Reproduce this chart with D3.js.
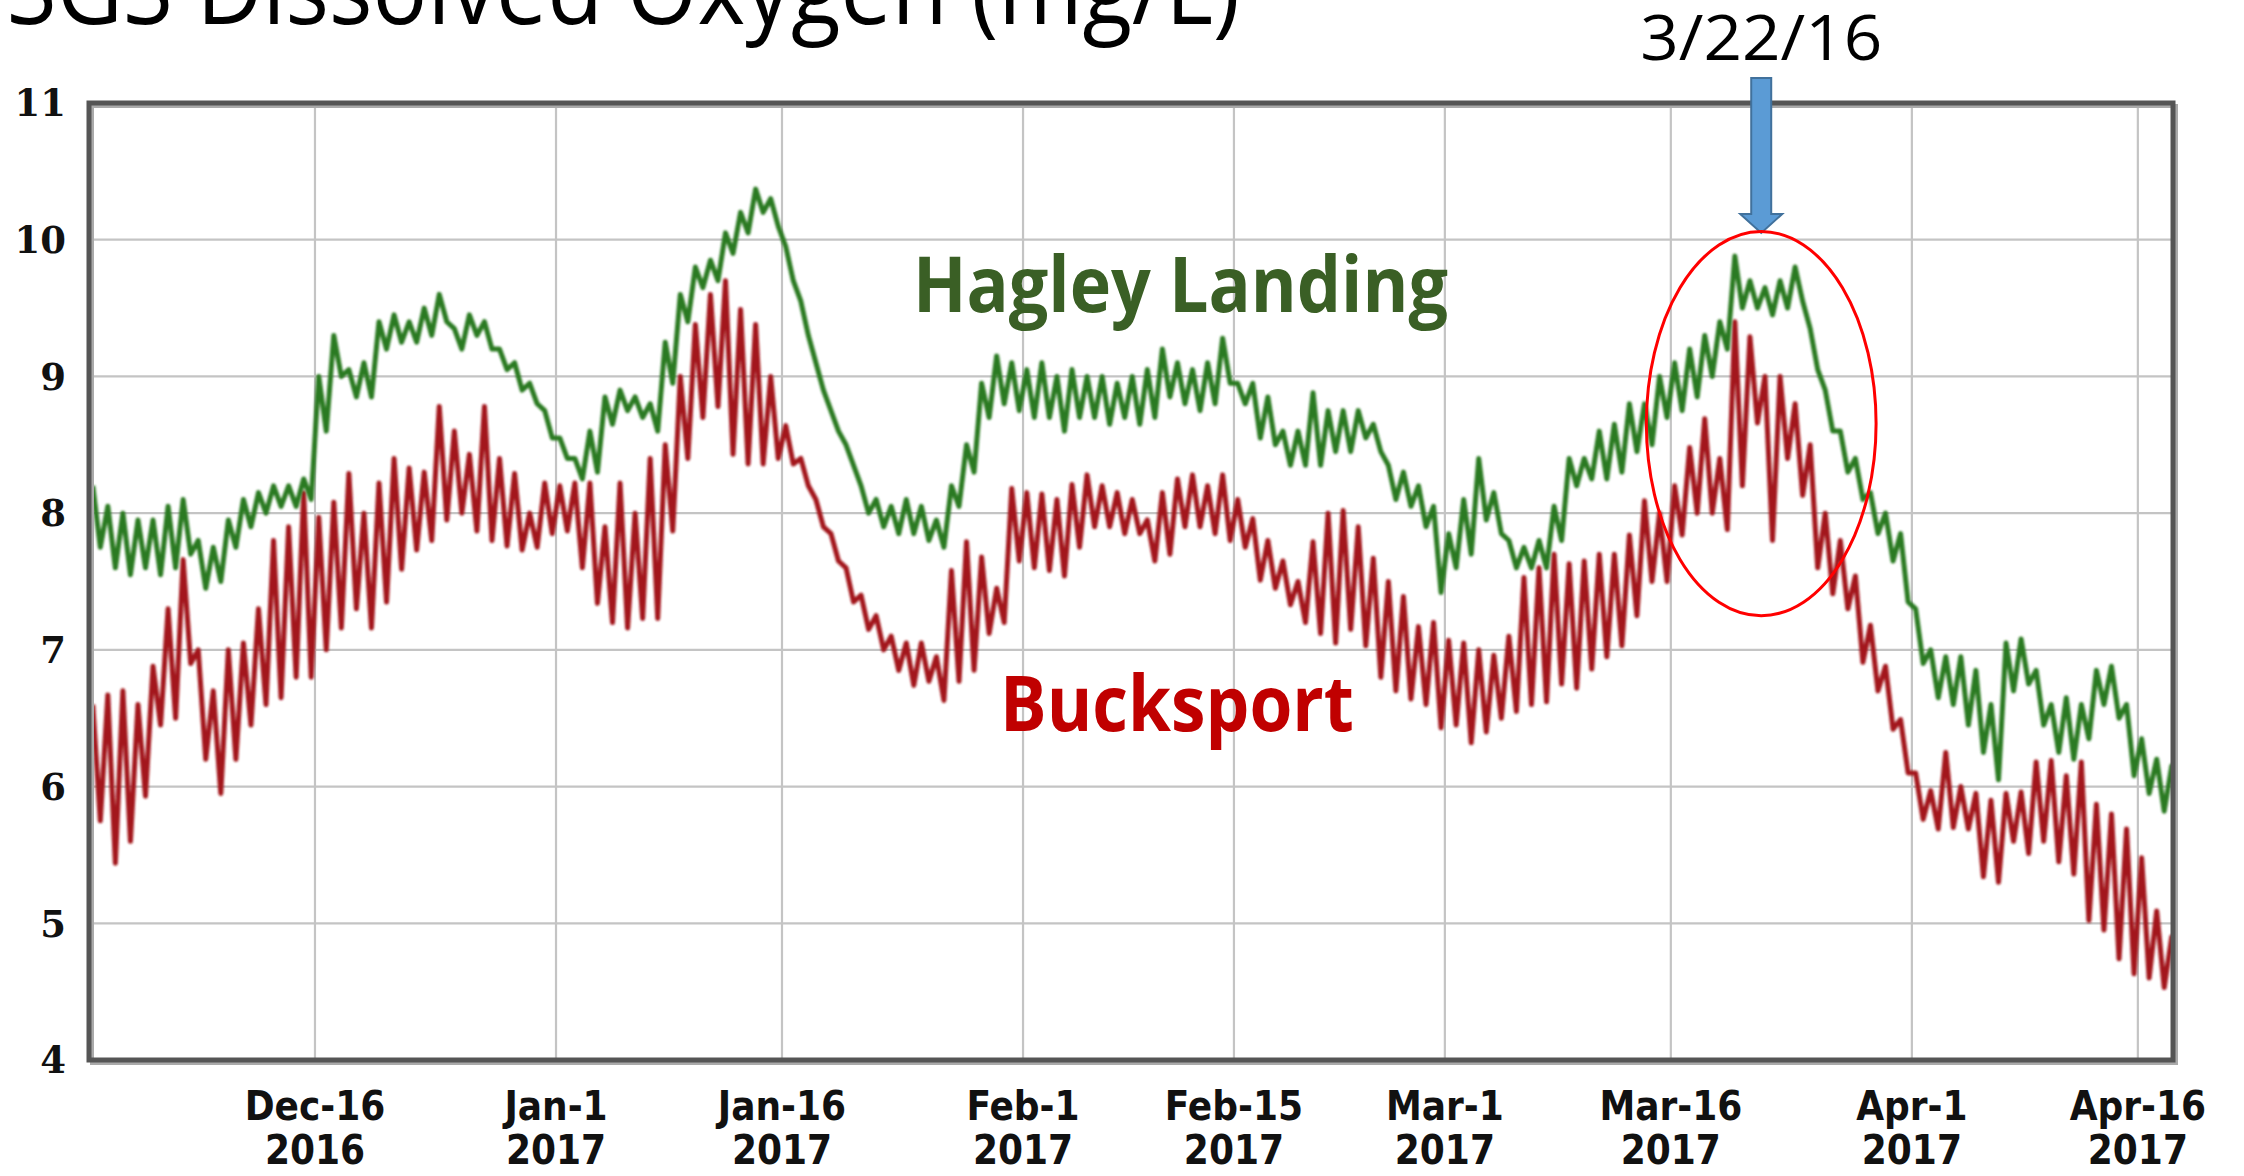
<!DOCTYPE html>
<html>
<head>
<meta charset="utf-8">
<script src="https://cdn.jsdelivr.net/npm/d3@7"></script>
<style>
  body { margin: 0; background: #fff; overflow: hidden; }
  svg { display: block; }
</style>
</head>
<body>
<script>
// dissolved oxygen, USGS stations on the Penobscot

// time window of the plot
var startDate = new Date(2016, 11, 1);
var endDate = new Date(2017, 3, 18, 8);

// x ticks
var tickDates = ["2016-12-16", "2017-01-01", "2017-01-16", "2017-02-01", "2017-02-15",
                 "2017-03-01", "2017-03-16", "2017-04-01", "2017-04-16"];
var tickLine1 = ["Dec-16", "Jan-1", "Jan-16", "Feb-1", "Feb-15", "Mar-1", "Mar-16", "Apr-1", "Apr-16"];
var tickLine2 = ["2016", "2017", "2017", "2017", "2017", "2017", "2017", "2017", "2017"];

// y ticks
var yTicks = [4, 5, 6, 7, 8, 9, 10, 11];

// daily high / low readings, one value per day starting Dec 1 2016
var hagleyHigh = [8.2,8.05,8.0,7.95,7.95,8.05,8.1,7.8,7.75,7.95,8.1,8.15,8.2,8.2,8.25,9.0,9.3,9.05,9.1,9.4,
  9.45,9.4,9.5,9.6,9.35,9.45,9.4,9.2,9.1,8.95,8.75,8.55,8.4,8.6,8.85,8.9,8.85,8.8,9.25,9.6,
  9.8,9.85,10.05,10.2,10.37,10.3,9.95,9.55,9.1,8.75,8.5,8.2,8.1,8.05,8.1,8.05,7.95,8.2,8.5,8.95,
  9.15,9.1,9.05,9.1,9.0,9.05,9.0,9.0,8.95,9.0,9.05,9.2,9.1,9.05,9.1,9.28,8.95,8.95,8.85,8.6,
  8.6,8.88,8.75,8.75,8.75,8.65,8.35,8.3,8.2,8.05,7.85,8.1,8.4,8.15,7.8,7.75,7.8,8.05,8.4,8.4,
  8.6,8.65,8.8,8.8,9.0,9.1,9.2,9.3,9.4,9.88,9.7,9.65,9.7,9.8,9.35,8.9,8.6,8.4,8.15,8.0,
  7.85,7.3,7.0,6.95,6.95,6.85,6.6,7.05,7.08,6.85,6.6,6.65,6.6,6.85,6.88,6.6,6.35,6.2,6.15];
var hagleyLow = [7.75,7.6,7.55,7.6,7.55,7.6,7.7,7.45,7.5,7.75,7.9,8.0,8.05,8.05,8.1,8.6,9.0,8.85,8.85,9.2,
  9.25,9.25,9.3,9.4,9.2,9.3,9.2,9.05,8.9,8.8,8.55,8.4,8.25,8.3,8.65,8.75,8.7,8.6,8.95,9.4,
  9.65,9.7,9.9,10.05,10.2,10.1,9.7,9.3,8.9,8.6,8.35,8.0,7.9,7.85,7.85,7.8,7.75,8.05,8.3,8.7,
  8.8,8.75,8.7,8.7,8.6,8.7,8.7,8.65,8.7,8.65,8.7,8.85,8.8,8.75,8.8,8.95,8.8,8.55,8.5,8.35,
  8.35,8.35,8.45,8.45,8.55,8.45,8.1,8.05,7.9,7.42,7.6,7.7,7.95,7.85,7.6,7.6,7.6,7.8,8.2,8.25,
  8.25,8.3,8.45,8.5,8.7,8.75,8.85,9.0,9.2,9.5,9.5,9.45,9.5,9.55,9.05,8.6,8.3,8.1,7.85,7.65,
  7.35,6.9,6.65,6.6,6.45,6.25,6.05,6.7,6.75,6.45,6.25,6.2,6.35,6.6,6.5,6.08,5.95,5.82,5.8];
var bucksHigh = [6.6,6.67,6.7,6.6,6.88,7.3,7.66,7.0,6.7,7.0,7.05,7.3,7.8,7.9,8.15,7.97,8.08,8.29,8.0,8.22,
  8.4,8.33,8.3,8.78,8.6,8.43,8.78,8.4,8.29,8.0,8.22,8.2,8.22,8.22,7.9,8.22,8.0,8.4,8.5,9.0,
  9.38,9.6,9.7,9.49,9.38,9.0,8.64,8.4,8.1,7.85,7.6,7.4,7.25,7.1,7.05,7.05,6.95,7.58,7.79,7.68,
  7.45,8.18,8.15,8.14,8.1,8.21,8.28,8.2,8.15,8.1,7.95,8.15,8.25,8.28,8.2,8.28,8.1,7.96,7.8,7.65,
  7.5,7.79,8.0,8.02,7.9,7.67,7.5,7.39,7.17,7.2,7.07,7.05,7.0,6.96,7.1,7.53,7.6,7.7,7.63,7.65,
  7.7,7.7,7.84,8.09,8.0,8.2,8.48,8.69,8.4,9.4,9.29,9.0,9.0,8.8,8.5,8.0,7.8,7.54,7.18,6.88,
  6.49,6.1,5.97,6.25,6.0,5.95,5.9,5.95,5.96,6.18,6.19,6.08,6.18,5.87,5.8,5.69,5.48,5.09,4.9];
var bucksLow = [5.75,5.44,5.6,5.93,6.45,6.5,6.9,6.2,5.95,6.2,6.45,6.6,6.65,6.8,6.8,7.0,7.16,7.3,7.16,7.35,
  7.59,7.73,7.8,7.95,8.0,7.87,7.8,7.76,7.73,7.75,7.85,7.87,7.6,7.34,7.2,7.16,7.23,7.23,7.87,8.4,
  8.7,8.78,8.43,8.36,8.36,8.4,8.36,8.2,7.9,7.65,7.35,7.15,7.0,6.85,6.74,6.77,6.63,6.77,6.85,7.12,
  7.2,7.65,7.6,7.58,7.54,7.75,7.9,7.9,7.85,7.85,7.65,7.7,7.9,7.9,7.85,7.8,7.75,7.51,7.45,7.33,
  7.2,7.12,7.05,7.15,7.03,6.8,6.7,6.64,6.6,6.43,6.45,6.32,6.4,6.5,6.55,6.6,6.62,6.75,6.72,6.86,
  6.95,7.03,7.25,7.5,7.5,7.84,8.0,8.0,7.88,8.2,8.66,7.8,8.4,8.13,7.6,7.41,7.3,6.91,6.7,6.42,
  6.1,5.76,5.69,5.7,5.69,5.34,5.3,5.6,5.51,5.6,5.45,5.36,5.02,4.95,4.74,4.63,4.6,4.53,4.6];

// layout
var W = 2244, H = 1176;
var plot = {left: 89, right: 2173, top: 103, bottom: 1060};

var svg = d3.select("body").append("svg")
    .attr("width", W)
    .attr("height", H);

var x = d3.scaleTime().domain([startDate, endDate]).range([plot.left, plot.right]);
var y = d3.scaleLinear().domain([4, 11]).range([plot.bottom, plot.top]);

var parseDay = d3.timeParse("%Y-%m-%d");

// turn the daily hi/lo readings into points (high mid-morning, low in the evening)
function toSeries(hi, lo) {
  var pts = [];
  for (var i = 0; i < hi.length; i++) {
    pts.push({date: new Date(startDate.getTime() + (i + 0.25) * 864e5), v: hi[i]});
    pts.push({date: new Date(startDate.getTime() + (i + 0.75) * 864e5), v: lo[i]});
  }
  return pts;
}
var hagley = toSeries(hagleyHigh, hagleyLow);
var bucks = toSeries(bucksHigh, bucksLow);

var defs = svg.append("defs");
defs.append("clipPath").attr("id", "clip")
  .append("rect")
    .attr("x", plot.left).attr("y", plot.top)
    .attr("width", plot.right - plot.left).attr("height", plot.bottom - plot.top);
// the source is a soft jpeg, so blur the traces a touch
defs.append("filter").attr("id", "soft")
  .append("feGaussianBlur").attr("stdDeviation", 0.9);

// grid
svg.append("g").selectAll("line.h")
    .data(yTicks.slice(1, -1))
  .enter().append("line")
    .attr("x1", plot.left).attr("x2", plot.right)
    .attr("y1", function(d) { return y(d); })
    .attr("y2", function(d) { return y(d); })
    .style("stroke", "#c4c4c4")
    .style("stroke-width", 2.2);

svg.append("g").selectAll("line.v")
    .data(tickDates)
  .enter().append("line")
    .attr("x1", function(d) { return x(parseDay(d)); })
    .attr("x2", function(d) { return x(parseDay(d)); })
    .attr("y1", plot.top).attr("y2", plot.bottom)
    .style("stroke", "#c4c4c4")
    .style("stroke-width", 2.2);

// lines
var line = d3.line()
    .x(function(d) { return x(d.date); })
    .y(function(d) { return y(d.v); });

var traces = svg.append("g")
    .attr("clip-path", "url(#clip)");

traces.append("path")
    .datum(bucks)
    .attr("d", line)
    .attr("filter", "url(#soft)")
    .style("fill", "none")
    .style("stroke", "#a3161b")
    .style("stroke-width", 5)
    .style("stroke-linejoin", "round");

traces.append("path")
    .datum(hagley)
    .attr("d", line)
    .attr("filter", "url(#soft)")
    .style("fill", "none")
    .style("stroke", "#2c7a20")
    .style("stroke-width", 5)
    .style("stroke-linejoin", "round");

// frame (with a soft shadow)
svg.append("rect")
    .attr("x", plot.left + 3).attr("y", plot.top + 3)
    .attr("width", plot.right - plot.left).attr("height", plot.bottom - plot.top)
    .style("fill", "none").style("stroke", "#aaa").style("stroke-width", 4);
svg.append("rect")
    .attr("x", plot.left).attr("y", plot.top)
    .attr("width", plot.right - plot.left).attr("height", plot.bottom - plot.top)
    .style("fill", "none").style("stroke", "#555").style("stroke-width", 5);

// y labels
svg.append("g").selectAll("text")
    .data(yTicks)
  .enter().append("text")
    .attr("x", 66)
    .attr("y", function(d) { return y(d); })
    .attr("dy", "0.36em")
    .attr("text-anchor", "end")
    .style("font-family", "'DejaVu Serif', serif")
    .style("font-weight", "bold")
    .style("font-size", "37px")
    .style("fill", "#111")
    .text(function(d) { return d; });

// x labels, two lines
var xl = svg.append("g").selectAll("g")
    .data(tickDates)
  .enter().append("g")
    .attr("transform", function(d) { return "translate(" + x(parseDay(d)) + ",0)"; })
    .style("font-family", "'DejaVu Sans Condensed', 'DejaVu Sans', sans-serif")
    .style("font-stretch", "condensed")
    .style("font-weight", "bold")
    .style("font-size", "40px")
    .style("fill", "#111")
    .attr("text-anchor", "middle");
xl.append("text").attr("y", 1120).text(function(d, i) { return tickLine1[i]; });
xl.append("text").attr("y", 1164).text(function(d, i) { return tickLine2[i]; });

// title (cut off by the top of the slide)
svg.append("text")
    .attr("x", -60).attr("y", 24)
    .attr("textLength", 1300)
    .attr("lengthAdjust", "spacingAndGlyphs")
    .style("font-family", "'Open Sans', sans-serif")
    .style("font-size", "98px")
    .style("fill", "#000")
    .text("USGS Dissolved Oxygen (mg/L)");

// station labels
svg.append("text")
    .attr("x", 913).attr("y", 312)
    .attr("textLength", 535)
    .attr("lengthAdjust", "spacingAndGlyphs")
    .style("font-family", "'Open Sans', sans-serif")
    .style("font-weight", "bold")
    .style("font-size", "77px")
    .style("fill", "#3a5f25")
    .text("Hagley Landing");

svg.append("text")
    .attr("x", 1000).attr("y", 731)
    .attr("textLength", 354)
    .attr("lengthAdjust", "spacingAndGlyphs")
    .style("font-family", "'Open Sans', sans-serif")
    .style("font-weight", "bold")
    .style("font-size", "77px")
    .style("fill", "#c00000")
    .text("Bucksport");

// annotation: date, arrow and circle on 3/22
var markDate = new Date(2017, 2, 22);
var mx = x(markDate);

svg.append("text")
    .attr("x", mx).attr("y", 60)
    .attr("text-anchor", "middle")
    .attr("textLength", 242)
    .attr("lengthAdjust", "spacingAndGlyphs")
    .style("font-family", "'Open Sans', sans-serif")
    .style("font-size", "63px")
    .style("fill", "#000")
    .text("3/22/16");

var arrowPts = [[mx - 10, 78], [mx + 10, 78], [mx + 10, 214], [mx + 21, 214],
                [mx, 233], [mx - 21, 214], [mx - 10, 214]];
svg.append("path")
    .attr("d", d3.line()(arrowPts) + "Z")
    .style("fill", "#5b9bd5")
    .style("stroke", "#41719c")
    .style("stroke-width", 2);

svg.append("ellipse")
    .attr("cx", mx)
    .attr("cy", (y(10.06) + y(7.25)) / 2)
    .attr("rx", (x(d3.timeHour.offset(markDate, 183)) - x(markDate)))
    .attr("ry", (y(7.25) - y(10.06)) / 2)
    .style("fill", "none")
    .style("stroke", "#ff0000")
    .style("stroke-width", 3);
</script>
</body>
</html>
